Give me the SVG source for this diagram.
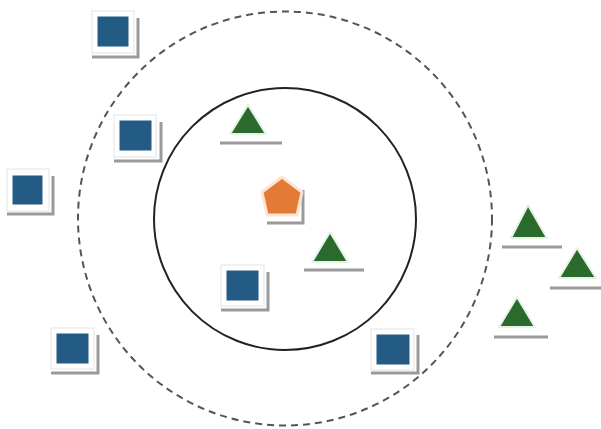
<svg xmlns="http://www.w3.org/2000/svg" width="601" height="429" viewBox="0 0 601 429">
<style>
.sq{fill:#235b85;stroke:#fff;stroke-width:3}
.tri{fill:#2a6a2c;stroke:#e6f2e4;stroke-width:2;stroke-linejoin:round}
.pent{fill:#e37a35;stroke:#fbe6d6;stroke-width:3;stroke-linejoin:round}
.sh{fill:none;stroke:#9a9a9a;stroke-width:3}
.frame{fill:none;stroke:#e3e3e3;stroke-width:1}
</style>
<rect width="601" height="429" fill="#fff"/>
<g id="circles">
<circle cx="285" cy="218.5" r="207" fill="none" stroke="#555" stroke-width="2" stroke-dasharray="7 5"/>
<circle cx="285" cy="219" r="131" fill="none" stroke="#222" stroke-width="2"/>
</g>
<g id="pentagon">
<path class="sh" d="M267 223 H303 V190"/>
<polygon class="pent" points="282,177 302,192 297,215 267,215 262,192"/>
</g>
<g id="sq1"><path class="sh" d="M92 57 H138 V18"/><rect class="frame" x="92" y="11" width="42" height="42"/><rect class="sq" x="96" y="15" width="34" height="33"/></g>
<g id="sq2"><path class="sh" d="M114 161 H161 V122"/><rect class="frame" x="114" y="115" width="42" height="42"/><rect class="sq" x="118" y="119" width="35" height="33"/></g>
<g id="sq3"><path class="sh" d="M7 214 H53 V176"/><rect class="frame" x="7" y="169" width="42" height="42"/><rect class="sq" x="11" y="174" width="33" height="32"/></g>
<g id="sq4"><path class="sh" d="M221 310 H268 V272"/><rect class="frame" x="221" y="265" width="43" height="41"/><rect class="sq" x="225" y="269" width="35" height="33"/></g>
<g id="sq5"><path class="sh" d="M51 373 H98 V335"/><rect class="frame" x="51" y="328" width="43" height="41"/><rect class="sq" x="55" y="332" width="35" height="33"/></g>
<g id="sq6"><path class="sh" d="M371 373 H418 V335"/><rect class="frame" x="371" y="329" width="43" height="41"/><rect class="sq" x="375" y="333" width="36" height="33"/></g>
<g id="tri1"><path class="sh" d="M220 143 H282"/><polygon class="tri" points="248,105 266,134 230,134"/></g>
<g id="tri2"><path class="sh" d="M304 270 H364"/><polygon class="tri" points="330,232 348,262 312,262"/></g>
<g id="tri3"><path class="sh" d="M502 247 H562"/><polygon class="tri" points="528,205 547,238 511,238"/></g>
<g id="tri4"><path class="sh" d="M550 288 H601"/><polygon class="tri" points="577,248 596,278 559,278"/></g>
<g id="tri5"><path class="sh" d="M494 337 H548"/><polygon class="tri" points="517,297 535,327 499,327"/></g>
</svg>
